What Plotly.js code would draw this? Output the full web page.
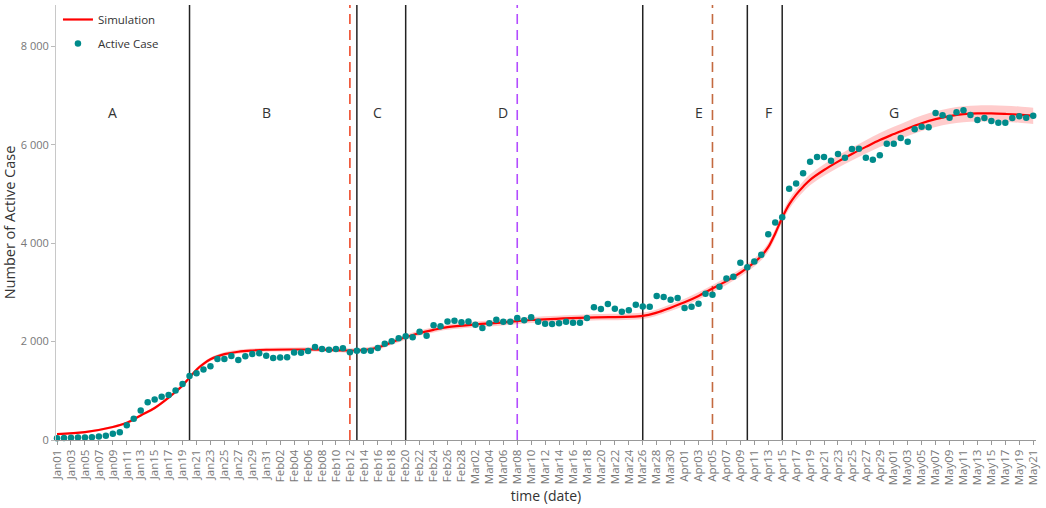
<!DOCTYPE html>
<html>
<head>
<meta charset="utf-8">
<script src="https://cdn.plot.ly/plotly-3.0.1.min.js"></script>
<style>
  html, body { margin: 0; padding: 0; background: #fff; }
  #chart { width: 1046px; height: 508px; }
</style>
</head>
<body>
<div id="chart"></div>
<script>
// Calendar labels, Jan01 .. May21 (one per day)
const months = ['Jan', 'Feb', 'Mar', 'Apr', 'May'];
const monthLengths = [31, 28, 31, 30, 21];
const dates = [];
months.forEach((m, i) => {
  for (let d = 1; d <= monthLengths[i]; d++) dates.push(m + String(d).padStart(2, '0'));
});

// Observed active cases, one value per day
const activeCase = [
  35, 40, 45, 50, 52, 57, 70, 85, 125, 158,
  300, 430, 600, 768, 822, 877, 917, 1005, 1141, 1303,
  1356, 1431, 1498, 1648, 1648, 1709, 1628, 1701, 1750, 1762,
  1715, 1668, 1675, 1681, 1780, 1775, 1810, 1892, 1851, 1837,
  1851, 1864, 1783, 1817, 1817, 1817, 1871, 1959, 2006, 2067,
  2108, 2087, 2203, 2121, 2331, 2311, 2412, 2426, 2392, 2412,
  2345, 2277, 2372, 2446, 2406, 2406, 2480, 2433, 2497, 2403,
  2365, 2358, 2372, 2406, 2385, 2385, 2480, 2697, 2663, 2765,
  2670, 2609, 2636, 2751, 2717, 2710, 2927, 2906, 2852, 2886,
  2683, 2710, 2771, 2974, 2954, 3116, 3285, 3319, 3603, 3515,
  3630, 3766, 4186, 4425, 4530, 5110, 5213, 5424, 5660, 5755,
  5755, 5680, 5816, 5741, 5917, 5924, 5741, 5700, 5789, 6025,
  6025, 6141, 6066, 6317, 6370, 6358, 6648, 6601, 6553, 6662,
  6703, 6608, 6506, 6547, 6486, 6451, 6451, 6547, 6581, 6553,
  6594
];

// Simulated curve, sampled at these day indices
const simDay = [
  0, 4, 8, 10, 12, 14, 16, 17, 18, 19, 20, 21, 22, 23, 24, 26, 28, 30,
  34, 38, 42, 44, 46, 48, 50, 52, 54, 56, 60, 64, 68, 76, 84, 86, 88,
  90, 92, 94, 96, 98, 99, 100, 101, 102, 103, 104, 105, 106, 107, 108,
  110, 112, 114, 116, 118, 120, 122, 124, 126, 128, 130, 132, 134, 136,
  138, 140
];
const simValue = [
  118, 160, 265, 350, 500, 650, 860, 980, 1110, 1270, 1430, 1550, 1640, 1700, 1745, 1795, 1820, 1835,
  1840, 1838, 1820, 1830, 1880, 1985, 2090, 2175, 2240, 2295, 2350, 2390, 2440, 2490, 2525, 2590, 2690,
  2800, 2930, 3080, 3230, 3400, 3500, 3610, 3740, 3920, 4200, 4520, 4790, 4990, 5150, 5290,
  5490, 5660, 5815, 5960, 6100, 6220, 6335, 6440, 6525, 6585, 6625, 6640, 6640, 6630,
  6615, 6590
];
// Half-width of the simulation uncertainty band at the same days
const simSpread = [
  20, 22, 25, 27, 29, 31, 33, 34, 35, 36, 38, 38, 39, 39, 40, 40, 41, 42,
  43, 44, 45, 46, 47, 48, 50, 52, 54, 55, 58, 60, 62, 63, 65, 66, 68,
  70, 72, 74, 76, 78, 80, 82, 85, 88, 92, 96, 100, 104, 108, 112,
  118, 124, 130, 136, 142, 148, 152, 156, 160, 162, 163, 164, 165, 165,
  165, 165
];

// Phase boundaries (solid) and intervention dates (dashed)
const phaseBreaks = ['Jan20', 'Feb13', 'Feb20', 'Mar26', 'Apr10', 'Apr15'];
const eventDates = ['Feb12', 'Mar08', 'Apr05'];
const eventColors = ['#ee4b2b', '#b34dff', '#c46a40'];
const phaseLabels = ['A', 'B', 'C', 'D', 'E', 'F', 'G'];
const phaseLabelDates = ['Jan09', 'Jan31', 'Feb16', 'Mar06', 'Apr03', 'Apr13', 'May01'];
const phaseLabelLevel = 6650;

const simX = simDay.map(i => dates[i]);
const upper = simValue.map((v, i) => v + simSpread[i]);
const lower = simValue.map((v, i) => v - simSpread[i]);

const traces = [
  { x: simX, y: lower, type: 'scatter', mode: 'lines', line: { width: 0, shape: 'spline', color: 'rgba(255,0,0,0)' },
    showlegend: false, hoverinfo: 'skip' },
  { x: simX, y: upper, type: 'scatter', mode: 'lines', fill: 'tonexty', fillcolor: 'rgba(255,0,0,0.2)',
    line: { width: 0, shape: 'spline', color: 'rgba(255,0,0,0)' }, showlegend: false, hoverinfo: 'skip' },
  { x: simX, y: simValue, type: 'scatter', mode: 'lines', name: 'Simulation', legendgroup: 'sim',
    line: { color: '#ff0000', width: 2.2, shape: 'spline' } },
  { x: dates, y: activeCase, type: 'scatter', mode: 'markers', name: 'Active Case', legendgroup: 'obs',
    marker: { color: '#008b8b', size: 6.5 }, cliponaxis: false }
];

const shapes = [];
phaseBreaks.forEach(d => shapes.push({
  type: 'line', xref: 'x', yref: 'paper', x0: d, x1: d, y0: 0, y1: 1, layer: 'below',
  line: { color: '#222', width: 1.5 }
}));
eventDates.forEach((d, i) => shapes.push({
  type: 'line', xref: 'x', yref: 'paper', x0: d, x1: d, y0: 0, y1: 1, layer: 'below',
  line: { color: eventColors[i], width: 1.6, dash: '10px,6px' }
}));

const annotations = phaseLabels.map((t, i) => ({
  x: phaseLabelDates[i], y: phaseLabelLevel, xref: 'x', yref: 'y', text: t, showarrow: false,
  font: { size: 14, color: '#333' }
}));

const layout = {
  width: 1046, height: 508,
  margin: { l: 56, r: 10, t: 5, b: 68 },
  paper_bgcolor: '#fff', plot_bgcolor: '#fff',
  font: { family: 'Open Sans, sans-serif', color: '#333' },
  separators: '. ',
  showlegend: true,
  legend: { x: 0.002, y: 1, xanchor: 'left', yanchor: 'top', bgcolor: 'rgba(255,255,255,0)',
            font: { size: 11.5, color: '#333' }, tracegroupgap: 5 },
  xaxis: {
    type: 'category', categoryorder: 'array', categoryarray: dates,
    range: [-0.15, 140.4], tickmode: 'linear', tick0: 0, dtick: 2,
    tickangle: -90, ticks: 'outside', ticklen: 4, tickcolor: '#999',
    showline: true, linecolor: '#999', linewidth: 1, showgrid: false, zeroline: false,
    tickfont: { size: 11.5, color: '#777' },
    title: { text: 'time (date)', font: { size: 14, color: '#333' } }
  },
  yaxis: {
    range: [0, 8845], tickmode: 'linear', tick0: 0, dtick: 2000, separatethousands: true,
    ticks: 'outside', ticklen: 4, tickcolor: '#bbb',
    showline: true, linecolor: '#c8c8c8', linewidth: 1, showgrid: false, zeroline: false,
    tickfont: { size: 11, color: '#777' }, automargin: true,
    title: { text: 'Number of Active Case', standoff: 3, font: { size: 14.5, color: '#333' } }
  },
  shapes: shapes,
  annotations: annotations
};

Plotly.newPlot('chart', traces, layout, { displayModeBar: false, staticPlot: true });
</script>
</body>
</html>
